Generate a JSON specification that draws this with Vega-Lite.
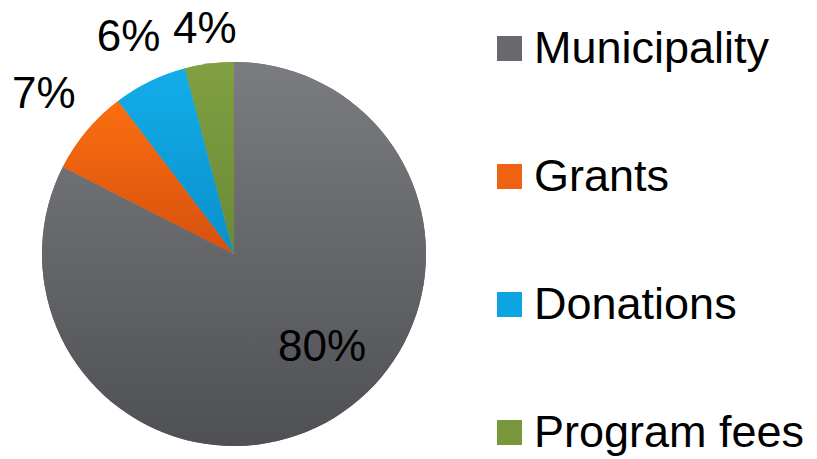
{
  "$schema": "https://vega.github.io/schema/vega-lite/v6.json",
  "width": 468,
  "height": 410,
  "autosize": "none",
  "padding": {"left": 0, "top": 49, "right": 349, "bottom": 0},
  "background": "white",
  "config": {"view": {"stroke": null}, "font": "Liberation Sans"},
  "data": {
    "values": [
      {"source": "Municipality", "share": 80, "label": "80%"},
      {"source": "Grants", "share": 7, "label": "7%"},
      {"source": "Donations", "share": 6, "label": "6%"},
      {"source": "Program fees", "share": 4, "label": "4%"}
    ]
  },
  "transform": [
    {"stack": "share", "groupby": [], "sort": [{"field": "share", "order": "descending"}], "as": ["t0", "t1"]}
  ],
  "layer": [
    {
      "mark": {"type": "arc", "outerRadius": 192},
      "encoding": {
        "theta": {"field": "t0", "type": "quantitative", "stack": null},
        "theta2": {"field": "t1"},
        "color": {
          "field": "source",
          "type": "nominal",
          "sort": ["Municipality", "Grants", "Donations", "Program fees"],
          "scale": {
            "domain": ["Municipality", "Grants", "Donations", "Program fees"],
            "range": ["#68696d", "#ee6214", "#0ea4e2", "#77973a"]
          },
          "legend": {
            "title": null,
            "orient": "none",
            "legendX": 487,
            "legendY": -23,
            "symbolType": "square",
            "symbolSize": 625,
            "symbolStrokeWidth": 0,
            "symbolOpacity": 1,
            "labelFontSize": 45,
            "labelFont": "Liberation Sans",
            "labelColor": "#000000",
            "labelOffset": 2,
            "rowPadding": 82,
            "labelLimit": 400
          }
        }
      }
    },
    {
      "transform": [{"filter": "datum.source === 'Municipality'"}],
      "mark": {"type": "arc", "outerRadius": 192, "color": {"gradient": "linear", "x1": 0, "y1": 0, "x2": 0, "y2": 1, "stops": [{"offset": 0, "color": "#7b7c80"}, {"offset": 1, "color": "#4f5054"}]}},
      "encoding": {"theta": {"field": "t0", "type": "quantitative", "stack": null}, "theta2": {"field": "t1"}}
    },
    {
      "transform": [{"filter": "datum.source === 'Grants'"}],
      "mark": {"type": "arc", "outerRadius": 192, "color": {"gradient": "linear", "x1": 0, "y1": 0, "x2": 0, "y2": 1, "stops": [{"offset": 0, "color": "#fb6e10"}, {"offset": 1, "color": "#d6500e"}]}},
      "encoding": {"theta": {"field": "t0", "type": "quantitative", "stack": null}, "theta2": {"field": "t1"}}
    },
    {
      "transform": [{"filter": "datum.source === 'Donations'"}],
      "mark": {"type": "arc", "outerRadius": 192, "color": {"gradient": "linear", "x1": 0, "y1": 0, "x2": 0, "y2": 1, "stops": [{"offset": 0, "color": "#12aeea"}, {"offset": 1, "color": "#0a8fcb"}]}},
      "encoding": {"theta": {"field": "t0", "type": "quantitative", "stack": null}, "theta2": {"field": "t1"}}
    },
    {
      "transform": [{"filter": "datum.source === 'Program fees'"}],
      "mark": {"type": "arc", "outerRadius": 192, "color": {"gradient": "linear", "x1": 0, "y1": 0, "x2": 0, "y2": 1, "stops": [{"offset": 0, "color": "#80a042"}, {"offset": 1, "color": "#6a8934"}]}},
      "encoding": {"theta": {"field": "t0", "type": "quantitative", "stack": null}, "theta2": {"field": "t1"}}
    },
    {
      "transform": [{"filter": "datum.source === 'Municipality'"}],
      "mark": {"type": "text", "radius": 130, "dx": 20, "dy": -17, "fontSize": 44, "color": "#000000", "font": "Liberation Sans"},
      "encoding": {
        "theta": {"field": "share", "type": "quantitative", "stack": true},
        "text": {"field": "label"}
      }
    },
    {
      "mark": {"type": "text", "fontSize": 44, "color": "#000000", "font": "Liberation Sans"},
      "encoding": {
        "theta": {"field": "share", "type": "quantitative", "stack": true},
        "order": {"field": "share", "type": "quantitative", "sort": "descending"},
        "text": {"field": "label"},
        "radius": {"field": "share", "type": "quantitative", "scale": {"type": "linear", "domain": [4, 7], "range": [226, 248], "zero": false, "clamp": true}},
        "opacity": {"condition": {"test": "datum.source === 'Municipality'", "value": 0}, "value": 1}
      }
    }
  ]
}
